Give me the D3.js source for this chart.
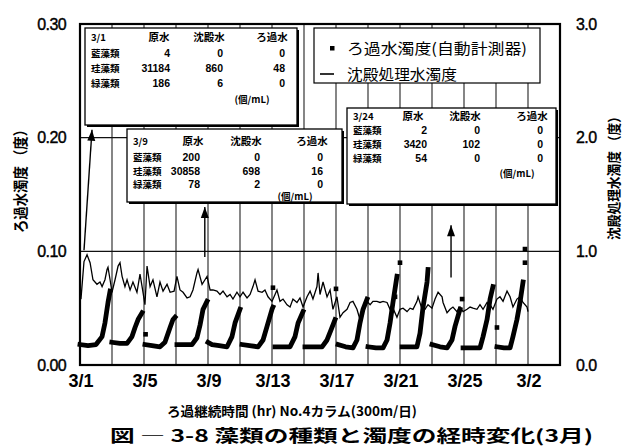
<!DOCTYPE html>
<html><head><meta charset="utf-8">
<script src="https://cdn.jsdelivr.net/npm/d3@7"></script>
<style>
html,body{margin:0;padding:0;background:#fff;overflow:hidden;}
svg{display:block;}
</style></head><body>
<svg id="chart" width="636" height="448"></svg>
<script>
// ---- axes ----
const xTickDays   = [0, 4, 8, 12, 16, 20, 24, 28];
const xTickLabels = ["3/1", "3/5", "3/9", "3/13", "3/17", "3/21", "3/25", "3/2"];
const gridDays    = [2, 4, 6, 8, 10, 12, 14, 16, 18, 20, 22, 24, 26, 28];
const leftTicks   = [0, 0.1, 0.2, 0.3];
const leftLabels  = ["0.00", "0.10", "0.20", "0.30"];
const rightTicks  = [0, 1, 2, 3];
const rightLabels = ["0.0", "1.0", "2.0", "3.0"];

// ---- filtered water turbidity (automatic meter), one run per filter cycle: [day, 度] ----
const filteredRuns = [
  [[0.0,0.018],[0.5,0.017],[1.0,0.018],[1.38,0.025],[1.56,0.037],[1.75,0.055],[1.88,0.065]],
  [[1.99,0.020],[2.5,0.019],[2.94,0.019],[3.25,0.025],[3.44,0.033],[3.63,0.040],[3.88,0.046]],
  [[4.06,0.018],[4.5,0.017],[5.0,0.016],[5.31,0.020],[5.63,0.033],[5.81,0.040],[5.94,0.042]],
  [[6.06,0.018],[6.6,0.018],[7.0,0.018],[7.31,0.024],[7.5,0.035],[7.69,0.049],[7.94,0.056]],
  [[8.0,0.020],[8.25,0.018],[8.7,0.017],[9.19,0.016],[9.5,0.025],[9.69,0.037],[10.0,0.049]],
  [[10.13,0.018],[10.6,0.017],[11.13,0.016],[11.44,0.022],[11.69,0.034],[12.0,0.049],[12.06,0.051]],
  [[12.19,0.016],[12.7,0.016],[13.13,0.016],[13.44,0.025],[13.63,0.037],[13.94,0.047]],
  [[14.06,0.016],[14.6,0.016],[15.13,0.016],[15.44,0.022],[15.69,0.031],[15.94,0.040]],
  [[16.13,0.018],[16.6,0.016],[17.06,0.015],[17.31,0.022],[17.5,0.037],[17.69,0.049],[17.94,0.058]],
  [[18.0,0.016],[18.5,0.015],[18.94,0.015],[19.19,0.022],[19.38,0.037],[19.56,0.055],[19.81,0.078]],
  [[20.13,0.016],[20.6,0.016],[21.06,0.016],[21.25,0.028],[21.44,0.051],[21.69,0.073],[21.75,0.084]],
  [[22.0,0.018],[22.5,0.016],[22.94,0.015],[23.25,0.022],[23.44,0.034],[23.75,0.049]],
  [[23.94,0.015],[24.5,0.015],[25.0,0.015],[25.19,0.025],[25.44,0.040],[25.63,0.058],[25.81,0.069]],
  [[26.06,0.016],[26.5,0.015],[26.88,0.015],[27.06,0.025],[27.31,0.040],[27.5,0.055],[27.69,0.073]]
];
const filteredSpikes = [[4.1,0.027],[12.06,0.068],[16.0,0.067],[19.69,0.060],[20.0,0.090],
  [23.88,0.058],[26.06,0.033],[27.81,0.090],[27.81,0.102]];

// ---- settled water turbidity (right axis): [day, 度] ----
const settled = [[0.06,0.58],[0.25,0.91],[0.44,0.97],[0.63,0.90],[0.81,0.75],[1.06,0.71],[1.25,0.73],[1.38,0.69],[1.56,0.75],[1.69,0.84],[1.75,0.86],[1.88,0.75],[2.0,0.64],[2.19,0.75],[2.38,0.87],[2.5,0.90],[2.63,0.78],[2.81,0.69],[2.94,0.75],[3.13,0.66],[3.31,0.73],[3.56,0.64],[3.75,0.80],[3.88,0.69],[4.06,0.53],[4.19,0.87],[4.38,0.69],[4.56,0.75],[4.81,0.60],[5.0,0.73],[5.19,0.65],[5.44,0.71],[5.63,0.64],[5.88,0.65],[6.06,0.78],[6.25,0.66],[6.44,0.64],[6.69,0.59],[6.88,0.60],[7.06,0.66],[7.31,0.81],[7.38,0.84],[7.63,0.71],[7.81,0.75],[7.94,0.78],[8.13,0.66],[8.31,0.66],[8.56,0.65],[8.75,0.62],[8.94,0.65],[9.19,0.60],[9.38,0.62],[9.56,0.58],[9.81,0.64],[10.0,0.60],[10.19,0.64],[10.44,0.59],[10.63,0.62],[10.81,0.69],[10.94,0.75],[11.13,0.65],[11.38,0.64],[11.56,0.66],[11.75,0.60],[12.0,0.56],[12.19,0.62],[12.31,0.66],[12.5,0.56],[12.69,0.58],[12.94,0.53],[13.13,0.51],[13.31,0.58],[13.56,0.55],[13.75,0.59],[13.94,0.51],[14.19,0.60],[14.38,0.65],[14.56,0.58],[14.81,0.69],[14.88,0.81],[15.0,0.62],[15.19,0.73],[15.44,0.60],[15.63,0.66],[15.81,0.49],[16.06,0.60],[16.25,0.42],[16.44,0.46],[16.69,0.49],[16.88,0.55],[17.06,0.56],[17.31,0.49],[17.5,0.40],[17.69,0.46],[17.94,0.56],[18.13,0.53],[18.31,0.56],[18.56,0.56],[18.75,0.55],[18.94,0.56],[19.19,0.55],[19.38,0.49],[19.56,0.50],[19.81,0.42],[20.0,0.49],[20.19,0.50],[20.44,0.47],[20.63,0.50],[20.81,0.49],[21.06,0.56],[21.13,0.60],[21.38,0.49],[21.56,0.49],[21.75,0.53],[22.0,0.50],[22.19,0.58],[22.38,0.64],[22.63,0.60],[22.69,0.55],[22.94,0.46],[23.13,0.49],[23.31,0.51],[23.56,0.47],[23.75,0.51],[23.94,0.47],[24.19,0.49],[24.38,0.51],[24.56,0.50],[24.81,0.49],[25.0,0.53],[25.19,0.49],[25.44,0.55],[25.63,0.53],[25.81,0.49],[26.06,0.58],[26.25,0.60],[26.44,0.56],[26.69,0.65],[26.88,0.60],[27.06,0.51],[27.31,0.58],[27.5,0.60],[27.69,0.55],[27.94,0.51],[28.0,0.47]];

// ---- algae counts (個/mL) ----
const sampleDates = ["3/1", "3/9", "3/24"];
const algaeTypes  = ["藍藻類", "珪藻類", "緑藻類"];
const waterTypes  = ["原水", "沈殿水", "ろ過水"];
const counts0301  = [[4, 0, 0], [31184, 860, 48], [186, 6, 0]];
const counts0309  = [[200, 0, 0], [30858, 698, 16], [78, 2, 0]];
const counts0324  = [[2, 0, 0], [3420, 102, 0], [54, 0, 0]];
const unitLabel   = "(個/mL)";
// pointer from each table down to its sampling time: [day, 度]
const pointerFrom = [[0.25, 0.101], [7.8, 0.095], [23.19, 0.077]];
const pointerTo   = [[0.75, 0.207], [7.8, 0.139], [23.19, 0.123]];

const legendLabels = ["ろ過水濁度(自動計測器)", "沈殿処理水濁度"];
const xTitle = "ろ過継続時間 (hr)  No.4カラム(300m/日)";
const caption = "図 ― 3-8  藻類の種類と濁度の経時変化(3月)";
const leftTitle = "ろ過水濁度 （度）";
const rightTitle = "沈殿処理水濁度 （度）";

// ---- drawing ----
const svg = d3.select("#chart");
const plot = {left: 80, right: 560, top: 24, bottom: 365};
const x  = d3.scaleLinear().domain([0, 30]).range([plot.left, plot.right]);
const yL = d3.scaleLinear().domain([0, 0.3]).range([plot.bottom, plot.top]);
const yR = d3.scaleLinear().domain([0, 3]).range([plot.bottom, plot.top]);
const jp = "'Noto Sans CJK JP', 'Noto Sans', sans-serif";
const num = "'Liberation Sans', Arial, sans-serif";
const narrow = "'Liberation Sans Narrow', 'Liberation Sans', Arial, sans-serif";

// grid
svg.append("g").selectAll("line").data(gridDays).join("line")
  .attr("x1", d => x(d)).attr("x2", d => x(d))
  .attr("y1", plot.top).attr("y2", plot.bottom)
  .attr("stroke", "#222").attr("stroke-width", 1.1);
svg.append("g").selectAll("line").data([0.1, 0.2]).join("line")
  .attr("x1", plot.left).attr("x2", plot.right)
  .attr("y1", d => yL(d)).attr("y2", d => yL(d))
  .attr("stroke", "#111").attr("stroke-width", 1.4);

// settled water line
svg.append("path").datum(settled)
  .attr("d", d3.line().x(d => x(d[0])).y(d => yR(d[1])))
  .attr("fill", "none").attr("stroke", "#000").attr("stroke-width", 1.3)
  .attr("stroke-linejoin", "miter");

// filtered water thick dotted trace
const fLine = d3.line().x(d => x(d[0])).y(d => yL(d[1]));
svg.append("g").selectAll("path").data(filteredRuns).join("path")
  .attr("d", fLine).attr("fill", "none").attr("stroke", "#000")
  .attr("stroke-width", 4.8).attr("stroke-linecap", "square").attr("stroke-linejoin", "round");
svg.append("g").selectAll("rect").data(filteredSpikes).join("rect")
  .attr("x", d => x(d[0]) - 2.3).attr("y", d => yL(d[1]) - 2.3)
  .attr("width", 4.6).attr("height", 4.6).attr("fill", "#000");

// frame
svg.append("rect").attr("x", plot.left).attr("y", plot.top)
  .attr("width", plot.right - plot.left).attr("height", plot.bottom - plot.top)
  .attr("fill", "none").attr("stroke", "#000").attr("stroke-width", 2.2);

// axis labels
svg.append("g").selectAll("text").data(leftTicks).join("text")
  .attr("x", 66).attr("y", d => yL(d) + 5.5).attr("text-anchor", "end")
  .attr("font-family", num).attr("font-size", 16).attr("letter-spacing", -0.6)
  .attr("stroke", "#000").attr("stroke-width", 0.4)
  .text((d, i) => leftLabels[i]);
svg.append("g").selectAll("text").data(rightTicks).join("text")
  .attr("x", 576).attr("y", d => yR(d) + 5.5)
  .attr("font-family", num).attr("font-size", 16).attr("letter-spacing", -0.6)
  .attr("stroke", "#000").attr("stroke-width", 0.4)
  .text((d, i) => rightLabels[i]);
svg.append("g").selectAll("text").data(xTickDays).join("text")
  .attr("x", d => x(d) + 1).attr("y", 387).attr("text-anchor", "middle")
  .attr("font-family", narrow).attr("font-size", 18).attr("font-weight", "bold")
  .text((d, i) => xTickLabels[i]);

svg.append("text").attr("transform", "translate(26,178) rotate(-90)")
  .attr("text-anchor", "middle").attr("font-family", jp).attr("font-size", 15)
  .attr("font-weight", "bold").attr("textLength", 110).attr("lengthAdjust", "spacingAndGlyphs")
  .text(leftTitle);
svg.append("text").attr("transform", "translate(619,175) rotate(-90)")
  .attr("text-anchor", "middle").attr("font-family", jp).attr("font-size", 14)
  .attr("font-weight", "bold").attr("textLength", 130).attr("lengthAdjust", "spacingAndGlyphs")
  .text(rightTitle);

svg.append("text").attr("x", 167).attr("y", 416)
  .attr("font-family", jp).attr("font-size", 13).attr("font-weight", "bold")
  .attr("textLength", 250).attr("lengthAdjust", "spacingAndGlyphs").text(xTitle);
svg.append("text").attr("x", 110).attr("y", 442)
  .attr("font-family", jp).attr("font-size", 17).attr("font-weight", "bold")
  .attr("textLength", 483).attr("lengthAdjust", "spacingAndGlyphs").text(caption);

// legend
const lg = svg.append("g");
lg.append("rect").attr("x", 314).attr("y", 28).attr("width", 226).attr("height", 55)
  .attr("fill", "#fff").attr("stroke", "#000").attr("stroke-width", 1.2);
lg.append("rect").attr("x", 330).attr("y", 46).attr("width", 4.5).attr("height", 4.5).attr("fill", "#000");
lg.append("line").attr("x1", 320).attr("x2", 334).attr("y1", 74).attr("y2", 74)
  .attr("stroke", "#000").attr("stroke-width", 1.6);
lg.selectAll("text").data(legendLabels).join("text")
  .attr("x", 347).attr("y", (d, i) => 54 + i * 26)
  .attr("font-family", jp).attr("font-size", 15)
  .attr("textLength", (d, i) => i === 0 ? 180 : 110).attr("lengthAdjust", "spacingAndGlyphs")
  .text(d => d);

// tables of algae counts
const tables = [
  {date: sampleDates[0], counts: counts0301, box: [85, 28, 212, 97],
   head: 9, rows: [25, 40, 55], unit: 71, colRight: [85, 138, 200], headMid: [74, 124, 187], unitMid: 167},
  {date: sampleDates[1], counts: counts0309, box: [127, 129, 215, 73],
   head: 12, rows: [28, 42, 55], unit: 67, colRight: [73, 133, 196], headMid: [66, 119, 185], unitMid: 168},
  {date: sampleDates[2], counts: counts0324, box: [347, 108, 209, 96],
   head: 8, rows: [22, 36, 50], unit: 65, colRight: [80, 133, 196], headMid: [66, 118, 185], unitMid: 170}
];
tables.forEach(t => {
  const [bx, by, bw, bh] = t.box;
  const g = svg.append("g").attr("transform", `translate(${bx},${by})`);
  g.append("rect").attr("x", 2).attr("y", 2).attr("width", bw).attr("height", bh).attr("fill", "#000");
  g.append("rect").attr("width", bw).attr("height", bh)
    .attr("fill", "#fff").attr("stroke", "#000").attr("stroke-width", 1.3);
  const txt = (sel) => sel.attr("font-family", jp).attr("font-weight", "bold").attr("font-size", 9.5);
  txt(g.append("text").attr("x", 6).attr("y", t.head + 4).text(t.date));
  g.selectAll("text.h").data(waterTypes).join("text").attr("class", "h")
    .call(txt).attr("x", (d, i) => t.headMid[i]).attr("y", t.head + 4)
    .attr("text-anchor", "middle").attr("font-size", 10.5).text(d => d);
  algaeTypes.forEach((a, r) => {
    g.append("text").call(txt).attr("x", 6).attr("y", t.rows[r] + 4).text(a);
    g.selectAll("text.v" + r).data(t.counts[r]).join("text").attr("class", "v" + r)
      .call(txt).attr("x", (d, i) => t.colRight[i]).attr("y", t.rows[r] + 4)
      .attr("text-anchor", "end").attr("font-family", narrow).attr("font-size", 10.5)
      .text(d => d);
  });
  txt(g.append("text").attr("x", t.unitMid).attr("y", t.unit + 4)
    .attr("text-anchor", "middle").text(unitLabel));
});

// pointers with arrowheads
pointerFrom.forEach((p, i) => {
  const q = pointerTo[i];
  const x1 = x(p[0]), y1 = yL(p[1]), x2 = x(q[0]), y2 = yL(q[1]);
  const ang = Math.atan2(y2 - y1, x2 - x1);
  svg.append("line").attr("x1", x1).attr("y1", y1).attr("x2", x2).attr("y2", y2)
    .attr("stroke", "#000").attr("stroke-width", 1.4);
  const L = 11, W = 4;
  const bxp = x2 - L * Math.cos(ang), byp = y2 - L * Math.sin(ang);
  const nx = -Math.sin(ang) * W, ny = Math.cos(ang) * W;
  svg.append("polygon")
    .attr("points", `${x2},${y2} ${bxp + nx},${byp + ny} ${bxp - nx},${byp - ny}`)
    .attr("fill", "#000");
});
</script>
</body></html>
